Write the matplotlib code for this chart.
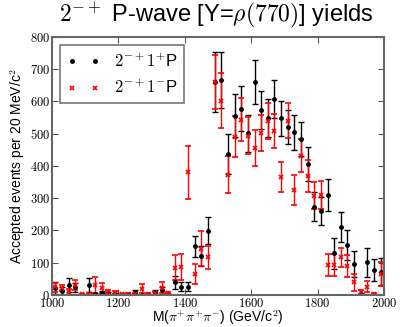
import numpy as np
import matplotlib
matplotlib.use("Agg")
import matplotlib.pyplot as plt
from matplotlib.lines import Line2D

plt.rcParams['font.family'] = ['Liberation Sans', 'DejaVu Sans']
plt.rcParams['mathtext.fontset'] = 'cm'

# bin centres, 20 MeV bins
mass = [1010 + 20 * i for i in range(50)]

plus_val = [21, 13, 31, 24, 1, 31, 2, 7, 5, 3,
            1, 1, 10, 1, 1, 10, 14, 1, 40, 25,
            26, 151, 120, 199, 660, 666, 437, 556, 577, 501,
            659, 574, 548, 608, 548, 520, 504, 484, 406, 274,
            261, 311, 129, 210, 155, 96, 3, 101, 78, 72]
plus_err = [18, 12, 22, 14, 2, 23, 3, 5, 4, 3,
            2, 2, 6, 2, 2, 6, 10, 2, 20, 14,
            14, 33, 31, 42, 94, 87, 62, 67, 70, 58,
            68, 58, 59, 59, 54, 53, 53, 52, 52, 46,
            44, 50, 49, 47, 47, 39, 4, 45, 34, 42]

minus_val = [24, 21, 9, 31, 2, 2, 31, 21, 9, 7,
             2, 3, 3, 20, 4, 5, 23, 5, 85, 87,
             380, 65, 144, 117, 661, 602, 373, 491, 543, 494,
             456, 501, 540, 509, 365, 540, 326, 432, 368, 308,
             310, 93, 93, 117, 91, 39, 8, 26, 3, 65]
minus_err = [14, 10, 8, 15, 2, 2, 24, 16, 5, 5,
             2, 3, 3, 14, 3, 4, 17, 3, 40, 40,
             83, 31, 54, 36, 84, 85, 58, 64, 67, 58,
             55, 56, 56, 52, 46, 54, 46, 52, 49, 41,
             44, 34, 33, 29, 34, 27, 6, 16, 3, 36]

fig = plt.figure(figsize=(4.0, 3.27), dpi=100)
ax = fig.add_axes([0.13, 0.098, 0.83, 0.789])

ax.errorbar(mass, plus_val, yerr=plus_err, fmt='o', color='black', ms=2.5,
            capsize=2.5, elinewidth=1, capthick=1)
ax.errorbar(mass, minus_val, yerr=minus_err, fmt='x', color='red', ms=3.5,
            mew=1.2, capsize=2.5, elinewidth=1, capthick=1)

ax.set_xlim(1000, 2000)
ax.set_ylim(0, 800)
ax.set_xticks(range(1000, 2001, 200))
ax.set_yticks(range(0, 801, 100))
ax.set_xticklabels(['$%d$' % t for t in range(1000, 2001, 200)])
ax.set_yticklabels(['$%d$' % t for t in range(0, 801, 100)])
ax.tick_params(direction='in', top=True, right=True, length=4, labelsize=9,
               color='#555555', pad=1.5)
for s in ax.spines.values():
    s.set_color('#666666')
    s.set_linewidth(1.5)

ax.set_xlabel(r'M($\pi^{+}\pi^{+}\pi^{-}$) (GeV/c$^{2}$)', fontsize=10, labelpad=-1)
ax.set_ylabel(r'Accepted events per 20 MeV/c$^{2}$', fontsize=10, labelpad=2)
fig.text(0.54, 0.955, r'$2^{-+}$ P-wave [Y=$\rho(770)$] yields', fontsize=17,
         ha='center', va='center')

handles = [Line2D([], [], ls='none', marker='o', color='black', ms=2.5),
           Line2D([], [], ls='none', marker='x', color='red', ms=3.5, mew=1.2)]
leg = ax.legend(handles, [r'$2^{-+}1^{+}$P', r'$2^{-+}1^{-}$P'],
                loc='upper left', numpoints=2, fontsize=12, fancybox=False,
                borderaxespad=0.5, handletextpad=0.8)
leg.get_frame().set_edgecolor('#555555')
leg.get_frame().set_linewidth(1.2)

fig.savefig('out.png', dpi=100)
